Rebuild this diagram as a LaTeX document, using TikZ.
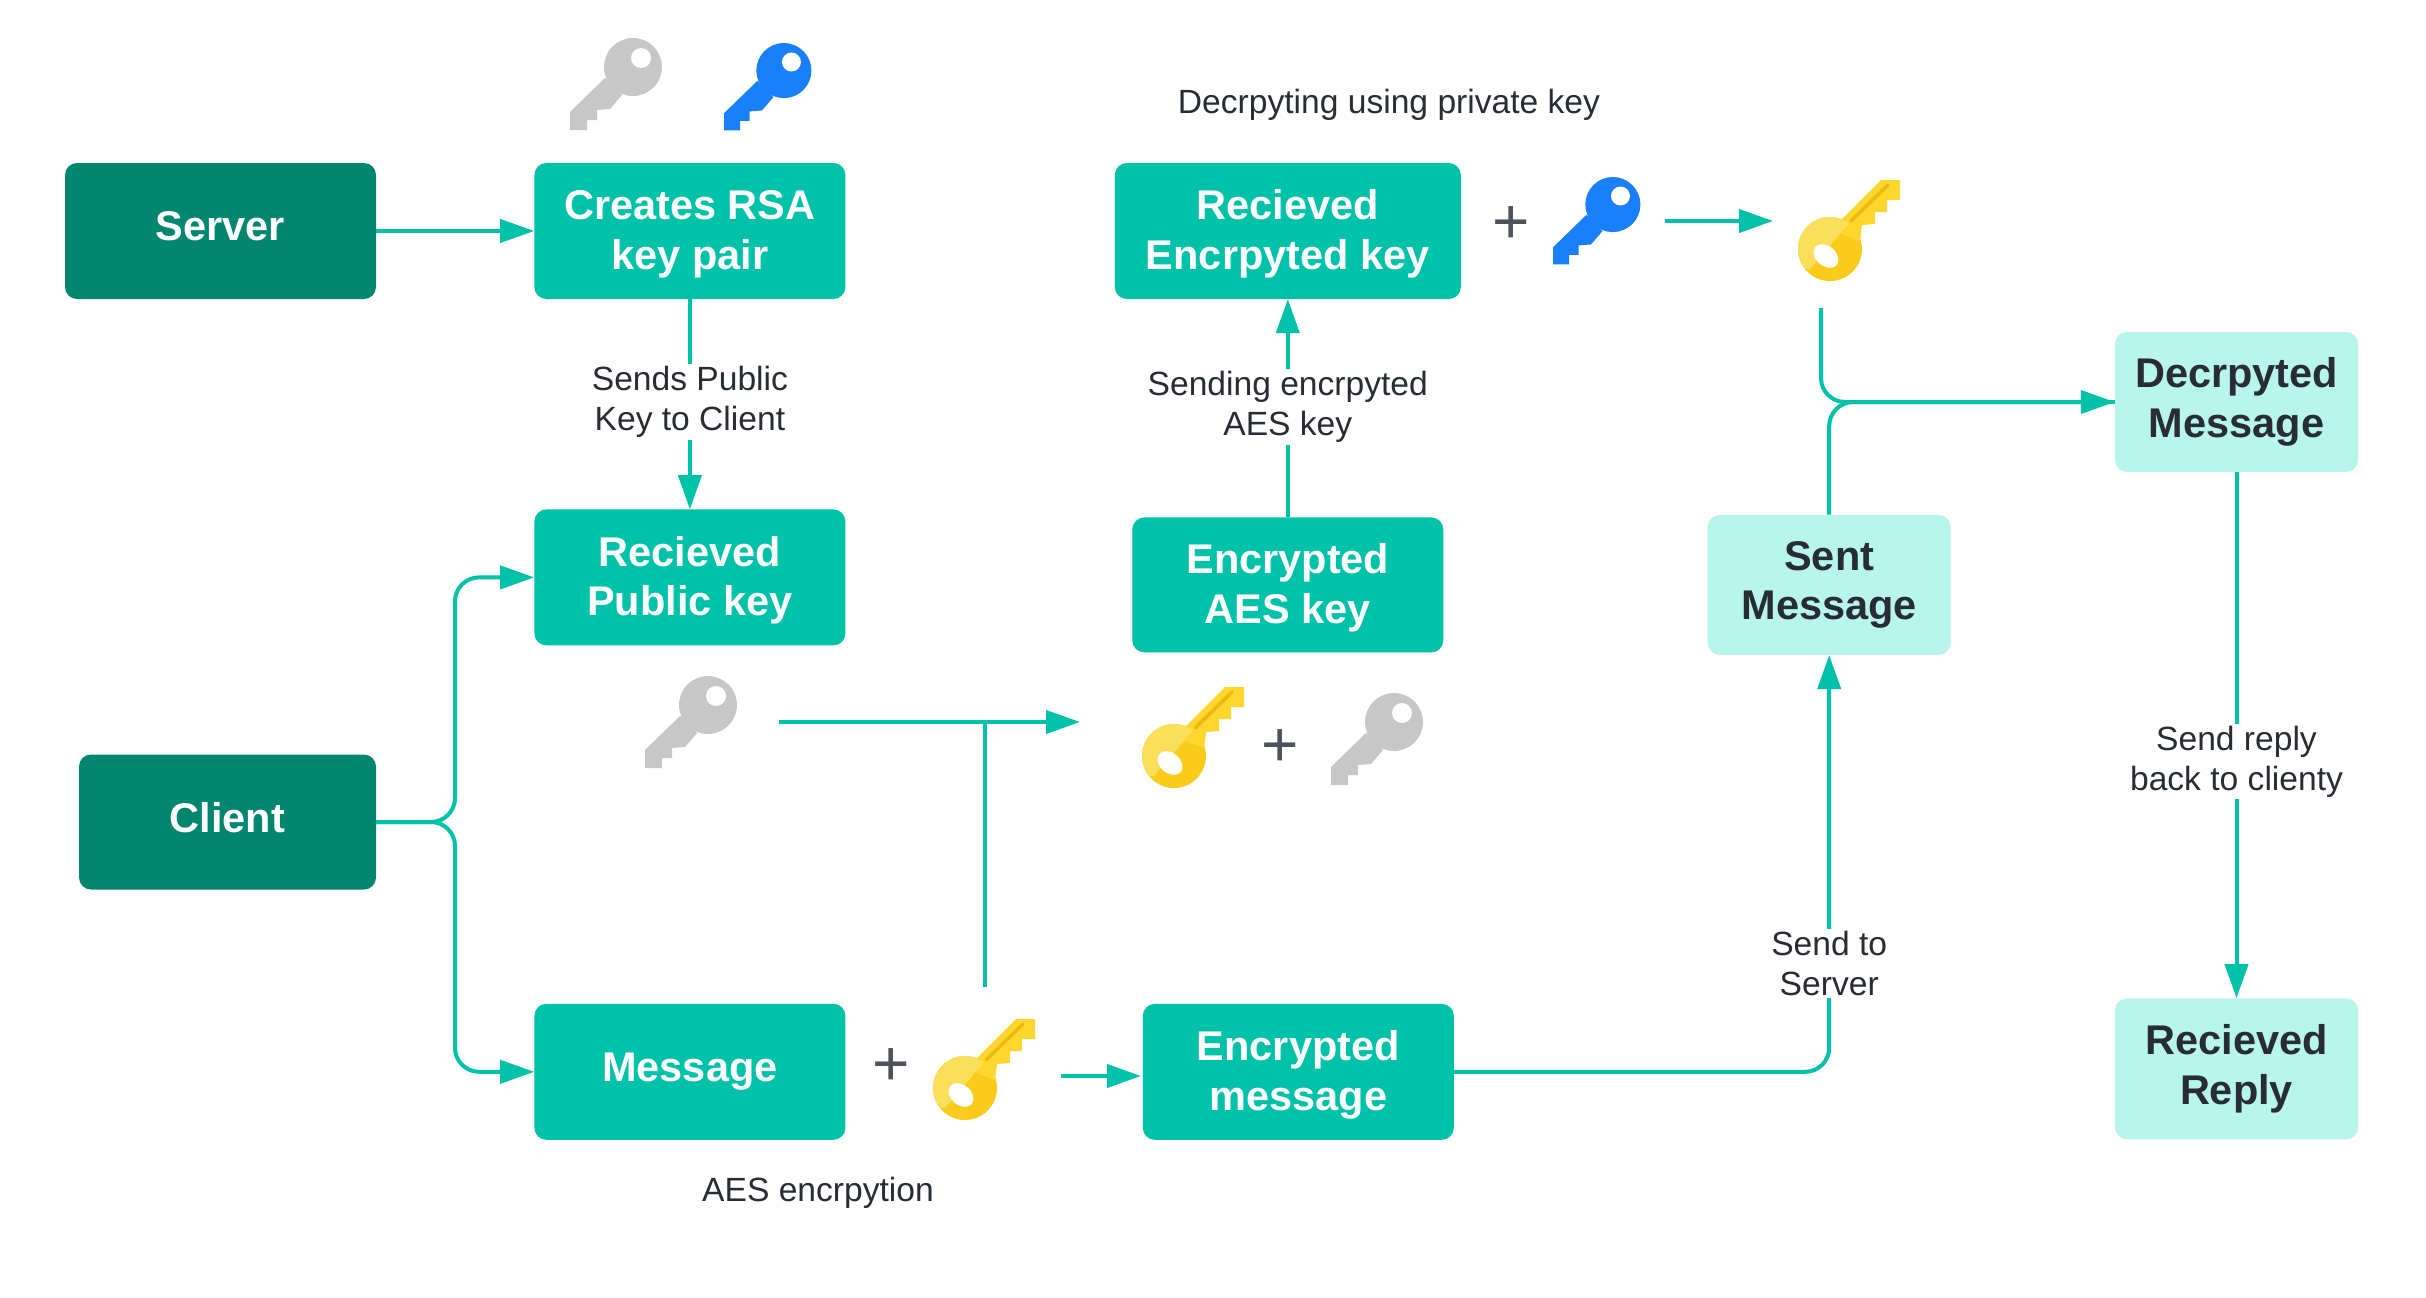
\documentclass[tikz,border=0pt]{standalone}
\usepackage{fontspec}
\setmainfont{Liberation Sans}
\usetikzlibrary {positioning,
                 arrows.meta}

\definecolor{tealbox}{HTML}{00C2A8}
\definecolor{darkbox}{HTML}{02866F}
\definecolor{lightbox}{HTML}{B8F5ED}
\definecolor{inktext}{HTML}{282C33}
\definecolor{plusgray}{HTML}{4C535D}
\definecolor{keygray}{HTML}{C7C7C7}
\definecolor{keyblue}{HTML}{1A7FFB}
\definecolor{keygold}{HTML}{FBCB1C}
\definecolor{keyshaft}{HTML}{FDD62E}
\definecolor{keylight}{HTML}{FBDF5A}
\definecolor{keyslot}{HTML}{EDB90F}

\newcommand{\lowline}{\rule{0pt}{36pt}}

\begin{document}
\begin{tikzpicture}[x=1pt,y=-1pt,
    box/.style={rounded corners=12pt,inner sep=0pt,minimum width=311pt,minimum height=136pt,align=center,
                font=\fontsize{41.5}{49.5}\selectfont\bfseries},
    tealnode/.style={box,fill=tealbox,text=white},
    darknode/.style={box,fill=darkbox,text=white,text depth=9pt},
    lightnode/.style={box,fill=lightbox,text=inktext,minimum width=243pt,minimum height=140pt},
    lbl/.style={fill=white,inner sep=2pt,align=center,text=inktext,font=\fontsize{33.6}{40}\selectfont},
    plussign/.style={text=plusgray,inner sep=0pt,font=\fontsize{64}{64}\selectfont},
    link/.style={draw=tealbox,line width=4pt,-{Triangle[length=34pt,width=23pt]}},
    plainlink/.style={draw=tealbox,line width=4pt},
    bentlink/.style={rounded corners=24pt},
    pics/plainkey/.style={code={
        \fill[#1] (63,29) circle (29);
        \fill[#1] (35,40) -- (0,74) -- (0,92) -- (17,92) -- (17,82) -- (27,82) -- (27,72)
                  -- (40,71) -- (52,57) -- cycle;
        \fill[white] (71,20) circle (10);
    }},
    pics/goldkey/.style={code={
        \fill[keygold] (32,70) circle (32);
        \fill[keyshaft] (45,39) -- (83,1) -- (102,1) -- (102,21) -- (89,21) -- (89,33) -- (77,33)
                       -- (77,45) -- (64,46) -- (62,62) -- (30,50) -- cycle;
        \begin{scope}
            \clip (12,90) -- (64,29) -- (64,-2) -- (-2,-2) -- (-2,90) -- cycle;
            \fill[keylight] (32,70) circle (32);
        \end{scope}
        \draw[keyslot,line width=3.5pt,line cap=round] (53,42) -- (90,6);
        \fill[white,rotate around={-40:(28,77)}] (28,77) ellipse (14 and 10);
    }}]
    \useasboundingbox (0,0) rectangle (2426,1298);

    % Server
    \node[darknode] (server) at (220.5,231) {Server};
    \node[tealnode, right=158pt of server] (creates) {\lowline Creates RSA\\key pair};
    \node[tealnode, below=210pt of creates] (public) {\lowline Recieved\\Public key};

    % Client
    \node[darknode, minimum width=297pt, minimum height=135pt] (client) at (227.5,822) {Client};
    \node[tealnode, below=358pt of public] (message) {Message};
    \node[tealnode, right=297pt of message] (encmsg) {\lowline Encrypted\\message};

    % AES key
    \node[tealnode, minimum width=346pt, right=269pt of creates] (recenc) {\lowline Recieved\\Encrpyted key};
    \node[tealnode, minimum height=135pt, below=218pt of recenc] (encaes) {\lowline Encrypted\\AES key};

    % Reply
    \node[lightnode, right=264pt of encaes] (sent) {Sent\\Message};
    \node[lightnode] (decr) at (2236.5,402) {Decrpyted\\Message};
    \node[lightnode, minimum height=141pt, below=526pt of decr] (reply) {Recieved\\Reply};

    % free texts
    \node[lbl] (decrtext) at (1389,105) {Decrpyting using private key};
    \node[lbl] (aestext) at (818,1193) {AES encrpytion};

    % plus signs
    \node[plussign] (plusa) at (1511,225) {+};
    \node[plussign] (plusb) at (1280,748) {+};
    \node[plussign] (plusc) at (891,1067) {+};

    % keys
    \pic at (570,38) {plainkey=keygray};
    \pic[scale=.95] at (724,43) {plainkey=keyblue};
    \pic[scale=.95] at (1553,177) {plainkey=keyblue};
    \pic at (645,676) {plainkey=keygray};
    \pic at (1331,693) {plainkey=keygray};
    \pic at (1142,686) {goldkey};
    \pic at (1798,179) {goldkey};
    \pic at (933,1018) {goldkey};

    % free ends
    \coordinate (clientbus) at (455,822);
    \coordinate (grayout) at (779,722);
    \coordinate (aesin) at (1080,722);
    \coordinate (goldup) at (985,987);
    \coordinate (aesjoin) at (985,722);
    \coordinate (goldmsgout) at (1061,1076);
    \coordinate (encmsgin) at (1141,1076);
    \coordinate (blueout) at (1665,221);
    \coordinate (goldin) at (1773,221);
    \coordinate (goldout) at (1821,308);

    % connectors
    \draw[link] (server) -- (creates);
    \draw[link] (creates) -- node[lbl, pos=.49] (sendpub) {Sends Public\\Key to Client} (public);
    \draw[link,bentlink] (client.east) -- (clientbus) |- (public.west);
    \draw[link,bentlink] (client.east) -- (clientbus) |- (message.west);
    \draw[link] (grayout) -- (aesin);
    \draw[plainlink] (goldup) -- (aesjoin);
    \draw[link] (goldmsgout) -- (encmsgin);
    \draw[link] (encaes) -- node[lbl, pos=.505] (sendaes) {Sending encrpyted\\AES key} (recenc);
    \draw[link] (blueout) -- (goldin);
    \draw[link,bentlink] (encmsg.east) -| node[lbl, pos=.63] (sendsrv) {Send to\\Server} (sent.south);
    \draw[link,bentlink] (goldout) |- (decr.west);
    \draw[plainlink,bentlink] (sent.north) |- (decr.west);
    \draw[link] (decr) -- node[lbl, pos=.55] (sendback) {Send reply\\back to clienty} (reply);
\end{tikzpicture}
\end{document}
